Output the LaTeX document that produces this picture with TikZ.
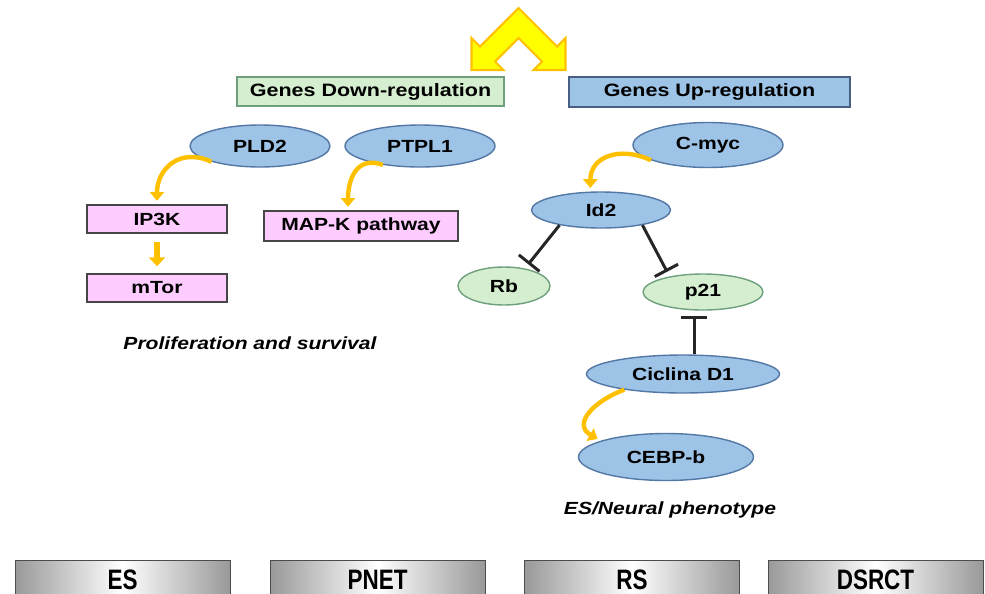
\documentclass[tikz,border=0pt]{standalone}
\usepackage{fontspec}
\setmainfont{Liberation Sans}
\newfontfamily\widefont[FakeStretch=1.2]{Liberation Sans}
\newfontfamily\narrowfont[FakeStretch=0.8]{Liberation Sans}
\usetikzlibrary{shapes.geometric,arrows.meta,calc}

\definecolor{geneblue}{RGB}{157,195,230}
\definecolor{geneedge}{RGB}{83,120,165}
\definecolor{targgreen}{RGB}{214,238,208}
\definecolor{targedge}{RGB}{110,160,125}
\definecolor{pathpink}{RGB}{255,204,255}
\definecolor{pathedge}{RGB}{70,70,70}
\definecolor{upedge}{RGB}{70,95,130}
\definecolor{hookyel}{RGB}{255,192,0}
\definecolor{chevyel}{RGB}{255,255,0}

\begin{document}
\begin{tikzpicture}[x=0.02cm,y=0.02cm,
  gene/.style={draw=geneedge,fill=geneblue,ellipse,inner sep=0pt,thick,font=\widefont\bfseries\fontsize{10}{12}\selectfont},
  target/.style={gene,draw=targedge,fill=targgreen},
  pathbox/.style={draw=pathedge,fill=pathpink,rectangle,inner sep=0pt,thick,font=\widefont\bfseries\fontsize{10}{12}\selectfont},
  header/.style={rectangle,inner sep=0pt,thick,font=\widefont\bfseries\fontsize{10.2}{12}\selectfont},
  tumour/.style={draw=gray!60!black,left color=gray!80,right color=gray!80,middle color=white,minimum width=4.3cm,minimum height=0.8cm,inner sep=0pt,font=\narrowfont\bfseries\fontsize{16}{18}\selectfont},
  outcome/.style={font=\widefont\bfseries\itshape\fontsize{10}{12}\selectfont},
  yhook/.style={draw=hookyel,line width=2.5pt,-{Triangle[length=5pt,width=8pt]},shorten >=2pt},
  inhib/.style={draw=black!85,line width=1.7pt,-{Bar[width=15pt,line width=1.7pt]},shorten >=3pt}]
\useasboundingbox (0,0) rectangle (985,-593);
\clip (0,0) rectangle (985,-593);

% double arrow on top
\draw [draw=hookyel,fill=chevyel,line width=1.2pt] (518.5,-8) -- (557,-46.5) -- (565.5,-38) -- (565.5,-70) -- (533.5,-70) -- (542,-61.5) -- (518.5,-38) -- (495,-61.5) -- (503.5,-70) -- (471.5,-70) -- (471.5,-38) -- (480,-46.5) -- cycle;

\node [header,draw=targedge,fill=targgreen,minimum width=5.34cm,minimum height=0.58cm] (down) at (370.5,-91.5) {Genes Down-regulation};
\node [header,draw=upedge,fill=geneblue,minimum width=5.62cm,minimum height=0.6cm] (up) at (709.5,-92) {Genes Up-regulation};

% down-regulated side
\node [gene,minimum width=2.8cm,minimum height=0.84cm] (pld2) at (260,-146) {PLD2};
\node [gene,minimum width=3cm,minimum height=0.84cm] (ptpl1) at (420,-146) {PTPL1};
\node [pathbox,minimum width=2.8cm,minimum height=0.56cm] (ip3k) at (157,-219) {IP3K};
\node [pathbox,minimum width=2.8cm,minimum height=0.56cm] (mtor) at (157,-288) {mTor};
\node [pathbox,minimum width=3.88cm,minimum height=0.6cm] (mapk) at (361,-226) {MAP-K pathway};
\node [outcome] (prolif) at (250,-343) {Proliferation and survival};

\draw [yhook] (pld2.198) to[out=155,in=90,looseness=1.3] (ip3k.north);
\draw [yhook] (ptpl1.207) to[out=160,in=90,looseness=1.3] ($(mapk.north)+(-13,0)$);
\draw [yhook,line width=3.5pt,-{Triangle[length=5pt,width=9pt]},shorten <=5pt,shorten >=4pt] (ip3k.south) -- (mtor.north);

% up-regulated side
\node [gene,minimum width=3cm,minimum height=0.9cm] (cmyc) at (708,-145) {C-myc};
\node [gene,minimum width=2.78cm,minimum height=0.72cm] (id2) at (601,-210) {Id2};
\node [target,minimum width=1.84cm,minimum height=0.76cm] (rb) at (504,-286) {Rb};
\node [target,minimum width=2.4cm,minimum height=0.72cm] (p21) at (703,-292) {p21};
\node [gene,minimum width=3.86cm,minimum height=0.76cm] (ciclina) at (683,-374) {Ciclina D1};
\node [gene,minimum width=3.5cm,minimum height=0.94cm] (cebp) at (666,-457) {CEBP-b};
\node [outcome] (esneur) at (670,-510) {ES/Neural phenotype};

\draw [yhook] (cmyc.195) to[out=155,in=90,looseness=1.3] (id2.120);
\draw [yhook] (ciclina.195) to[out=200,in=150,looseness=1.5] (cebp.166);
\draw [inhib] (id2.200) -- (rb.40);
\draw [inhib] (id2.-20) -- (p21.155);
\draw [inhib] (ciclina.60) -- (ciclina.60 |- p21.south);

% tumour types
\node [tumour] (es) at (122.5,-580) {ES};
\node [tumour] (pnet) at (377.5,-580) {PNET};
\node [tumour] (rs) at (632,-580) {RS};
\node [tumour] (dsrct) at (875.5,-580) {DSRCT};
\end{tikzpicture}
\end{document}
